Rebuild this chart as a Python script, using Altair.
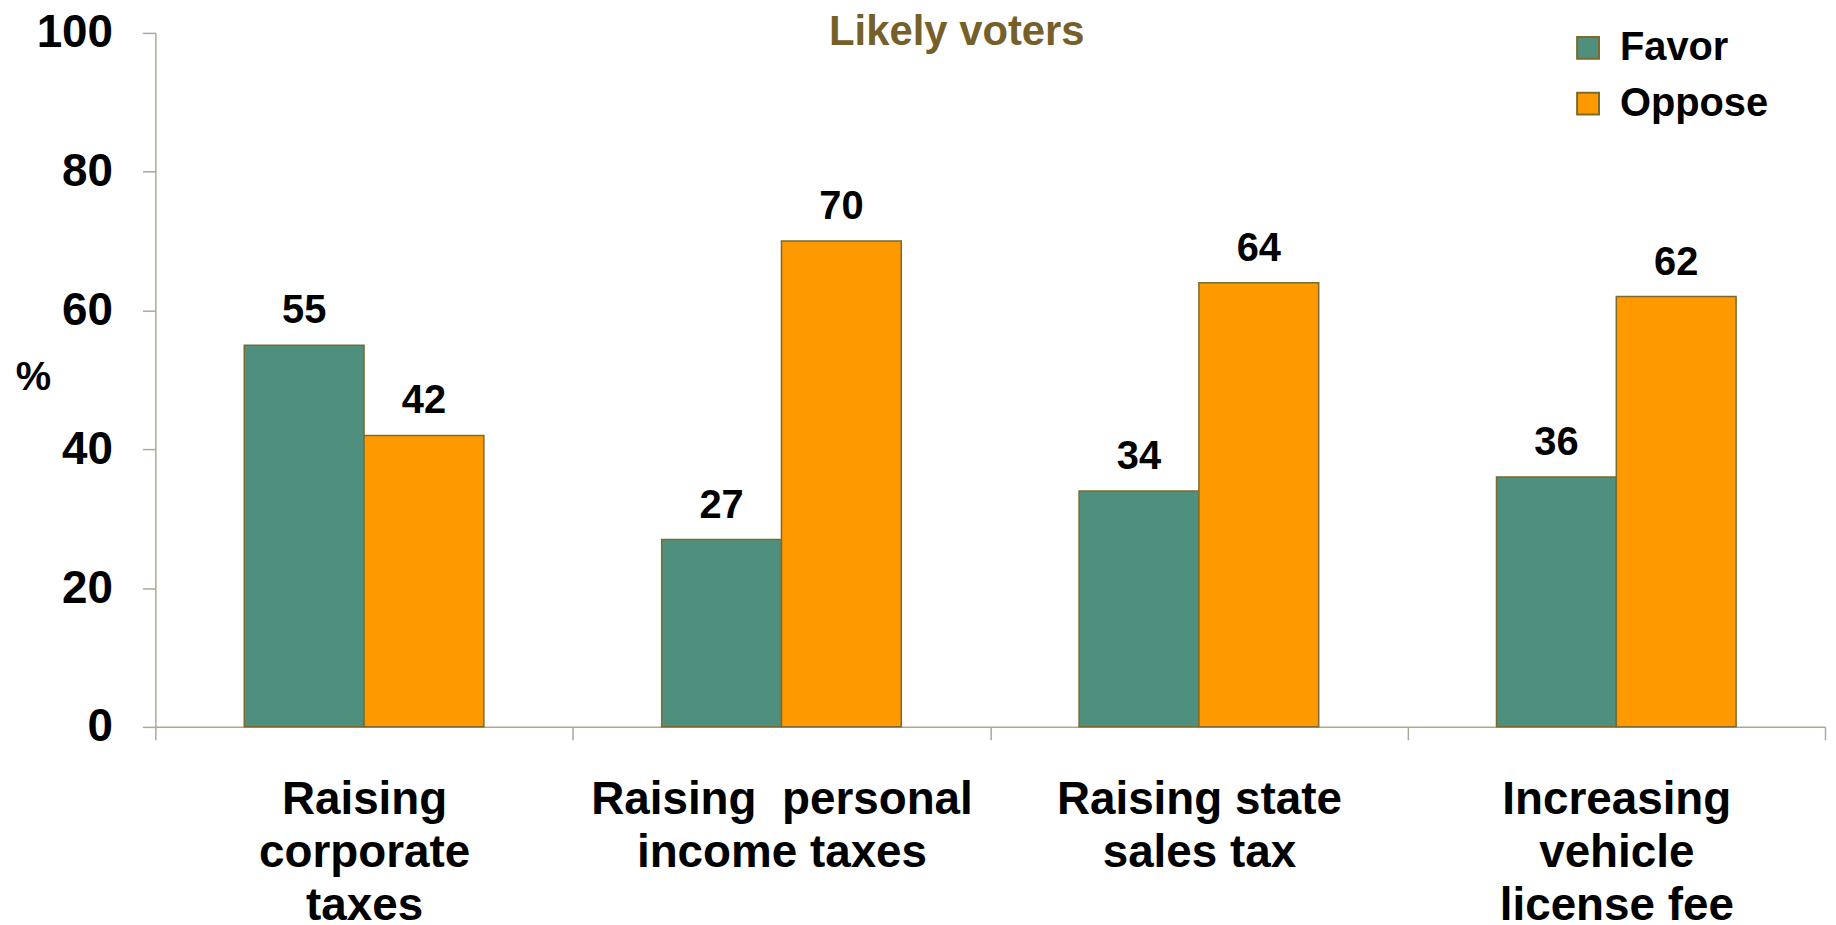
import altair as alt
import pandas as pd

categories = ["Raising\ncorporate\ntaxes", "Raising \u00a0personal\nincome taxes",
              "Raising state\nsales tax", "Increasing\nvehicle\nlicense fee"]
favor = [55, 27, 34, 36]
oppose = [42, 70, 64, 62]
series = ["Favor", "Oppose"]
colors = ["#4F8F7E", "#FF9900"]
title_text = ["Likely voters"]

rows = []
for i, c in enumerate(categories):
    rows.append({"cat": c, "series": "Favor", "value": favor[i]})
    rows.append({"cat": c, "series": "Oppose", "value": oppose[i]})
df = pd.DataFrame(rows)

FONT = "Liberation Sans"
AXIS_COL = "#ADA796"

base = alt.Chart(df).encode(
    x=alt.X("cat:N", sort=categories,
            scale=alt.Scale(paddingInner=0, paddingOuter=0),
            axis=alt.Axis(title=None, labelAngle=0, labelFont=FONT, labelFontSize=46,
                          labelFontWeight="bold", labelColor="black",
                          labelExpr="split(datum.label, '\\n')", labelLineHeight=53,
                          labelBaseline="top", labelPadding=38, labelLimit=0,
                          tickBand="extent", tickSize=13, tickColor=AXIS_COL,
                          domainColor=AXIS_COL, domainWidth=1.5, tickWidth=1.5)),
    xOffset=alt.XOffset("series:N", sort=series,
                        scale=alt.Scale(paddingInner=0, paddingOuter=0.742)),
)

bars = base.mark_bar(stroke="#7B6B2F", strokeWidth=1.5).encode(
    y=alt.Y("value:Q", scale=alt.Scale(domain=[0, 100]),
            axis=alt.Axis(values=[0, 20, 40, 60, 80, 100], grid=False,
                          title="%", titleAngle=0, titleFont=FONT, titleFontSize=40,
                          titleFontWeight="bold", titleColor="black",
                          titleX=-123, titleY=346, titleAlign="center",
                          titleBaseline="middle",
                          labelFont=FONT, labelFontSize=46, labelFontWeight="bold",
                          labelColor="black", labelPadding=30, tickSize=13,
                          tickColor=AXIS_COL, domainColor=AXIS_COL,
                          domainWidth=1.5, tickWidth=1.5)),
    color=alt.Color("series:N", sort=series,
                    scale=alt.Scale(domain=series, range=colors),
                    legend=alt.Legend(title=None, orient="none", legendX=1419,
                                      legendY=-5, symbolType="square",
                                      symbolSize=484, symbolStrokeColor="#7B6B2F",
                                      symbolStrokeWidth=2, labelFont=FONT,
                                      labelFontSize=40, labelFontWeight="bold",
                                      labelColor="black", labelOffset=12,
                                      rowPadding=16, padding=0)),
)

labels = base.mark_text(font=FONT, fontSize=40, fontWeight="bold", color="black",
                        baseline="alphabetic", dy=-22).encode(
    y=alt.Y("value:Q"),
    text=alt.Text("value:Q"),
)

title = alt.Chart(pd.DataFrame({"t": title_text})).mark_text(
    font=FONT, fontSize=42, fontWeight="bold", color="#76602A",
    align="center", baseline="alphabetic").encode(
    x=alt.value(805), y=alt.value(12), text="t:N")

chart = alt.layer(bars, labels, title).properties(
    width=1677, height=697,
    autosize=alt.AutoSizeParams(type="none"),
    padding={"left": 148, "top": 23, "right": 3, "bottom": 197},
).configure_view(stroke=None)

chart.save("out.html", embed_options={"renderer": "svg", "actions": False})
